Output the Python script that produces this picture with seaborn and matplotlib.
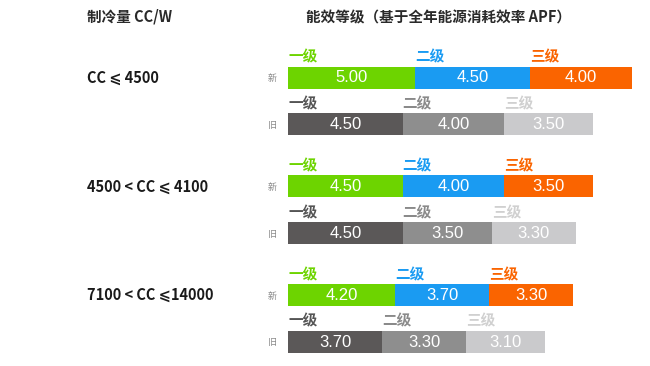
import numpy as np
import pandas as pd
import matplotlib
matplotlib.use("Agg")
import matplotlib.pyplot as plt
import seaborn as sns

# data
ranges = ["CC ⩽ 4500", "4500 < CC ⩽ 4100", "7100 < CC ⩽14000"]
grades = ["一级", "二级", "三级"]
kinds = ["新", "旧"]
new_vals = [[5.00, 4.50, 4.00], [4.50, 4.00, 3.50], [4.20, 3.70, 3.30]]
old_vals = [[4.50, 4.00, 3.50], [4.50, 3.50, 3.30], [3.70, 3.30, 3.10]]

new_colors = ["#6dd400", "#1a9bf2", "#fa6400"]
old_colors = ["#5b5858", "#8e8e8e", "#cacacc"]
old_label_colors = ["#555555", "#8a8a8a", "#d0d0d0"]

sns.set_style("white")
plt.rcParams["font.family"] = ["Noto Sans CJK SC", "DejaVu Sans"]

# layout in pixels
W, H = 650, 366
x0 = 288          # bar start
ppu = 25.45       # pixels per unit
first_y = 77.5    # center of first "新" bar
group_step = 108.75
old_offset = 46.75
bar_px = 22

rows = []
for g, name in enumerate(ranges):
    for k, vals in zip(kinds, [new_vals[g], old_vals[g]]):
        ypos = first_y + g * group_step + (old_offset if k == "旧" else 0)
        cum = np.cumsum(vals)
        for i, grade in enumerate(grades):
            rows.append(dict(group=name, kind=k, grade=grade, value=vals[i],
                             start=cum[i] - vals[i], cum=cum[i], y=ypos))
df = pd.DataFrame(rows)

fig = plt.figure(figsize=(W / 100, H / 100), dpi=100)
ax = fig.add_axes([0, 0, 1, 1])

# stacked bars: draw cumulative totals from the widest down
for i in reversed(range(len(grades))):
    sub = df[df["grade"] == grades[i]]
    sns.barplot(data=sub, x="cum", y="y", hue="kind", orient="y",
                native_scale=True, dodge=False, legend=False, saturation=1,
                palette={"新": new_colors[i], "旧": old_colors[i]},
                width=bar_px / old_offset, linewidth=0, ax=ax)

ax.set_xlim(-x0 / ppu, (W - x0) / ppu)
ax.set_ylim(H, 0)
ax.axis("off")

for _, r in df.iterrows():
    i = grades.index(r["grade"])
    ax.text(r["start"] + r["value"] / 2, r["y"] + 0.5, f"{r['value']:.2f}",
            ha="center", va="center", color="white", fontsize=12,
            family=["Liberation Sans", "DejaVu Sans"])
    lc = new_colors[i] if r["kind"] == "新" else old_label_colors[i]
    ax.text(r["start"], r["y"] - 21, r["grade"], ha="left", va="center",
            color=lc, fontsize=10.5, fontweight="bold")

for _, r in df[df["grade"] == grades[0]].iterrows():
    ax.text((272 - x0) / ppu, r["y"] + 1, r["kind"], ha="center", va="center",
            color="#888888", fontsize=6.5)

for g, name in enumerate(ranges):
    fig.text(87 / W, 1 - (first_y + g * group_step) / H, name, ha="left",
             va="center", color="#1a1a1a", fontsize=10.5, fontweight="bold")

fig.text(87 / W, 1 - 17 / H, "制冷量 CC/W", ha="left", va="center",
         color="#2a2a2a", fontsize=10.5, fontweight="bold")
fig.text(306 / W, 1 - 17 / H, "能效等级（基于全年能源消耗效率 APF）", ha="left",
         va="center", color="#2a2a2a", fontsize=10.5, fontweight="bold")

fig.savefig("out.png", dpi=100)
